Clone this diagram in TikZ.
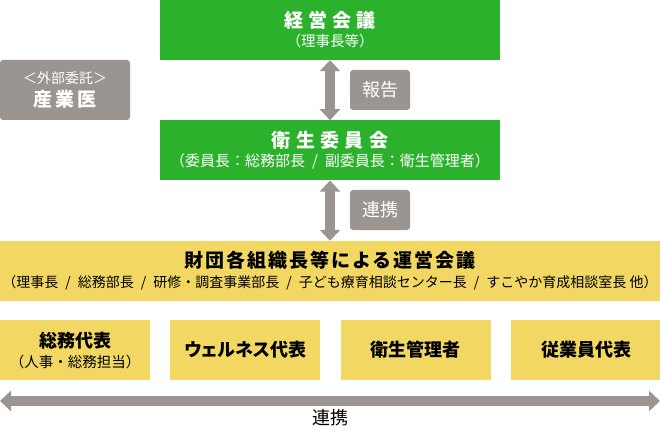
\documentclass[tikz,border=0pt]{standalone}
\usepackage{fontspec}
\setmainfont{Noto Sans CJK JP}
\usetikzlibrary{arrows.meta,positioning}
\definecolor{kgreen}{RGB}{43,177,43}
\definecolor{kgray}{RGB}{154,149,145}
\definecolor{kyellow}{RGB}{242,216,98}
\newcommand{\ttlfont}{\fontsize{19}{22}\selectfont\bfseries\addfontfeature{LetterSpace=28}}
\newcommand{\subfont}{\fontsize{14.5}{17}\selectfont}
\newcommand{\repfont}{\fontsize{18}{21}\selectfont\bfseries}
\newcommand{\slsep}{\hspace{7pt}/\hspace{7pt}}

\begin{document}
\begin{tikzpicture}[
  x=1pt, y=-1pt,
  node distance=20pt,
  font=\subfont,
  gbox/.style={fill=kgreen, text=white, minimum width=340pt, minimum height=60pt, inner sep=0pt, align=center},
  ybox/.style={fill=kyellow, text=black, minimum width=150pt, minimum height=60pt, inner sep=0pt, align=center},
  tag/.style={fill=kgray, text=white, rounded corners=3pt, minimum width=60pt, minimum height=40pt, inner sep=0pt, align=center, font=\fontsize{18}{21}\selectfont},
  both/.style={{Triangle[width=20pt,length=11pt]}-{Triangle[width=20pt,length=11pt]}, line width=10pt, draw=kgray}
]
\useasboundingbox (0,0) rectangle (660,430);

\node[gbox] (keiei) at (330,30) {{\ttlfont 経営会議}\\[2pt]{\subfont （理事長等）}};
\node[gbox, below=60pt of keiei] (eisei) {{\ttlfont 衛生委員会}\\[2pt]{\fontsize{15}{17}\selectfont （委員長：総務部長\slsep 副委員長：衛生管理者）}};
\node[tag, minimum width=130pt, minimum height=60pt] (sangyo) at (65,90) {{\fontsize{14}{17}\selectfont ＜外部委託＞}\\[2pt]{\fontsize{19}{22}\selectfont\bfseries\addfontfeature{LetterSpace=15}産業医}};
\node[tag] (hokoku) at (380,90) {報告};
\node[tag] (renkei) at (380,210) {連携};

\node[ybox, minimum width=660pt] (unei) at (330,271) {{\fontsize{19}{22}\selectfont\bfseries\addfontfeature{LetterSpace=10}財団各組織長等による運営会議}\\[3pt]{\fontsize{14}{17}\selectfont （理事長\slsep 総務部長\slsep 研修・調査事業部長\slsep 子ども療育相談センター長\slsep すこやか育成相談室長 他）}};

% representatives
\node[ybox] (somu) at (75,350) {{\repfont 総務代表}\\[3pt]{\subfont （人事・総務担当）}};
\node[ybox, right=of somu] (wellness) {\repfont\addfontfeature{RawFeature=+palt}ウェルネス代表};
\node[ybox, right=of wellness] (kanri) {\repfont 衛生管理者};
\node[ybox, right=of kanri] (jugyo) {\repfont 従業員代表};

\draw[both] (keiei) -- (eisei);
\draw[both] (eisei) -- (unei);

\coordinate (left) at (0,401);
\coordinate (right) at (660,401);
\draw[both] (left) -- (right);
\node[font=\fontsize{18}{21}\selectfont] (renkeiB) at (330,418) {連携};
\end{tikzpicture}
\end{document}
